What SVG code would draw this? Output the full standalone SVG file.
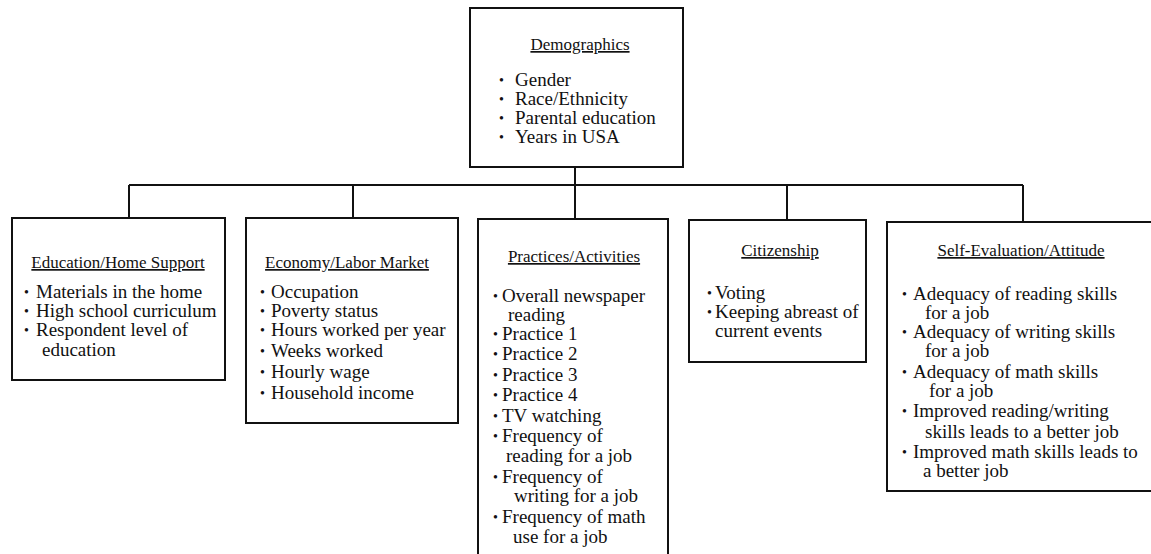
<svg xmlns="http://www.w3.org/2000/svg" width="1151" height="554" viewBox="0 0 1151 554">
<style>
.box{fill:#fff;stroke:#111;stroke-width:2}
.conn{fill:none;stroke:#111;stroke-width:2}
.t{font-family:"Liberation Serif","Times New Roman",serif;font-size:17px;fill:#111;text-anchor:middle;text-decoration:underline}
.b{font-family:"Liberation Serif","Times New Roman",serif;font-size:19px;fill:#111}
.d{font-family:"Liberation Serif","Times New Roman",serif;font-size:14px;fill:#111}
</style>
<rect width="1151" height="554" fill="#fff"/>
<g id="connectors">
<path class="conn" d="M575 167V185M129 185H1023M129 185V218M353 185V218M575 185V219M787 185V220M1023 185V222"/>
</g>
<g id="demographics">
<rect class="box" x="470" y="8" width="213" height="159"/>
<text class="t" x="580" y="50">Demographics</text>
<text class="d" x="499" y="85">•</text><text class="b" x="515" y="86">Gender</text>
<text class="d" x="499" y="104">•</text><text class="b" x="515" y="105">Race/Ethnicity</text>
<text class="d" x="499" y="123">•</text><text class="b" x="515" y="124">Parental education</text>
<text class="d" x="499" y="142">•</text><text class="b" x="515" y="143">Years in USA</text>
</g>
<g id="education">
<rect class="box" x="12" y="218" width="213" height="162"/>
<text class="t" x="118" y="268">Education/Home Support</text>
<text class="d" x="24" y="297">•</text><text class="b" x="36" y="298">Materials in the home</text>
<text class="d" x="24" y="316">•</text><text class="b" x="36" y="317">High school curriculum</text>
<text class="d" x="24" y="335">•</text><text class="b" x="36" y="336">Respondent level of</text>
<text class="b" x="42" y="356">education</text>
</g>
<g id="economy">
<rect class="box" x="246" y="218" width="212" height="205"/>
<text class="t" x="347" y="268">Economy/Labor Market</text>
<text class="d" x="260" y="297">•</text><text class="b" x="271" y="298">Occupation</text>
<text class="d" x="260" y="316">•</text><text class="b" x="271" y="317">Poverty status</text>
<text class="d" x="260" y="335">•</text><text class="b" x="271" y="336">Hours worked per year</text>
<text class="d" x="260" y="356">•</text><text class="b" x="271" y="357">Weeks worked</text>
<text class="d" x="260" y="377">•</text><text class="b" x="271" y="378">Hourly wage</text>
<text class="d" x="260" y="398">•</text><text class="b" x="271" y="399">Household income</text>
</g>
<g id="practices">
<rect class="box" x="478" y="219" width="190" height="345"/>
<text class="t" x="574" y="262">Practices/Activities</text>
<text class="d" x="493" y="301">•</text><text class="b" x="502" y="302">Overall newspaper</text>
<text class="b" x="508" y="321">reading</text>
<text class="d" x="493" y="339">•</text><text class="b" x="502" y="340">Practice 1</text>
<text class="d" x="493" y="359">•</text><text class="b" x="502" y="360">Practice 2</text>
<text class="d" x="493" y="380">•</text><text class="b" x="502" y="381">Practice 3</text>
<text class="d" x="493" y="400">•</text><text class="b" x="502" y="401">Practice 4</text>
<text class="d" x="493" y="421">•</text><text class="b" x="502" y="422">TV watching</text>
<text class="d" x="493" y="441">•</text><text class="b" x="502" y="442">Frequency of</text>
<text class="b" x="506" y="462">reading for a job</text>
<text class="d" x="493" y="482">•</text><text class="b" x="502" y="483">Frequency of</text>
<text class="b" x="514" y="502">writing for a job</text>
<text class="d" x="493" y="522">•</text><text class="b" x="502" y="523">Frequency of math</text>
<text class="b" x="513" y="543">use for a job</text>
</g>
<g id="citizenship">
<rect class="box" x="689" y="220" width="177" height="142"/>
<text class="t" x="780" y="256">Citizenship</text>
<text class="d" x="707" y="298">•</text><text class="b" x="715" y="299">Voting</text>
<text class="d" x="707" y="317">•</text><text class="b" x="715" y="318">Keeping abreast of</text>
<text class="b" x="715" y="337">current events</text>
</g>
<g id="selfeval">
<rect class="box" x="887" y="222" width="280" height="269"/>
<text class="t" x="1021" y="256">Self-Evaluation/Attitude</text>
<text class="d" x="902" y="299">•</text><text class="b" x="913" y="300">Adequacy of reading skills</text>
<text class="b" x="925" y="319">for a job</text>
<text class="d" x="902" y="337">•</text><text class="b" x="913" y="338">Adequacy of writing skills</text>
<text class="b" x="925" y="357">for a job</text>
<text class="d" x="902" y="377">•</text><text class="b" x="913" y="378">Adequacy of math skills</text>
<text class="b" x="929" y="397">for a job</text>
<text class="d" x="902" y="416">•</text><text class="b" x="913" y="417">Improved reading/writing</text>
<text class="b" x="925" y="438">skills leads to a better job</text>
<text class="d" x="902" y="457">•</text><text class="b" x="913" y="458">Improved math skills leads to</text>
<text class="b" x="923" y="477">a better job</text>
</g>
</svg>
